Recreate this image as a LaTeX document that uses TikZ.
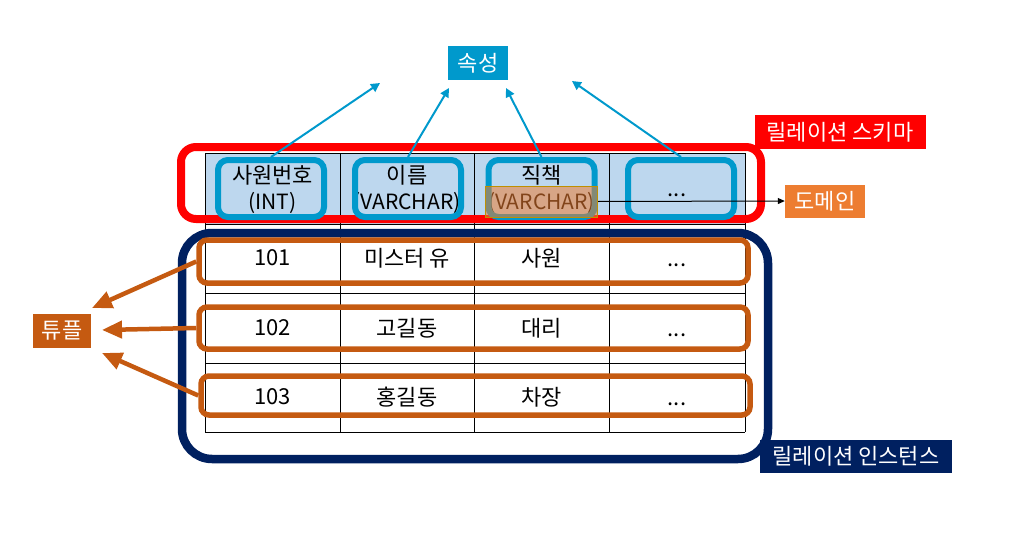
\documentclass[tikz,border=0pt]{standalone}
\usepackage{fontspec}
\setmainfont{Noto Sans CJK KR}
\usetikzlibrary{arrows.meta}
\definecolor{hdfill}{HTML}{BDD7EE}
\definecolor{attblue}{HTML}{0099CC}
\definecolor{schred}{HTML}{FF0000}
\definecolor{instnavy}{HTML}{002060}
\definecolor{tupbrown}{HTML}{C55A11}
\definecolor{domorange}{HTML}{ED7D31}
\definecolor{hlgold}{HTML}{BF9000}
\newcommand{\typefont}{\fontsize{21}{26}\selectfont}

\begin{document}
\begin{tikzpicture}[x=1pt,y=-1pt,
		every node/.style={font=\fontsize{22}{26}\selectfont},
		cell/.style={align=center,inner sep=0pt},
		colbox/.style={draw=attblue,line width=6pt,rounded corners=10pt,minimum width=106pt,minimum height=57pt,inner sep=0pt},
		rowbox/.style={draw=tupbrown,line width=5.5pt,rounded corners=8pt,minimum width=549pt,inner sep=0pt},
		tag/.style={text=white,inner sep=0pt,minimum height=33pt}]
			\useasboundingbox (0,0) rectangle (1029,535);
			% table
			\fill[hdfill] (205,153) rectangle (745,224);
			\foreach \x in {205,340,474,609,745}
   \draw[line width=0.8pt] (\x,153) -- (\x,432);
\foreach \y in {153,224,293,363,432}
    \draw[line width=0.8pt] (205,\y) -- (745,\y);
			\node[cell] (h1) at (272.5,189) {사원번호\\{\typefont(INT)}};
			\node[cell] (h2) at (407,189) {이름\\{\typefont(VARCHAR)}};
			\node[cell] (h3) at (541.5,189) {직책\\{\typefont(VARCHAR)}};
			\node[cell] (h4) at (677,189) {\vphantom{1}...};
			\foreach \y/\n/\a/\b in {258/101/미스터 유/사원, 328/102/고길동/대리, 397/103/홍길동/차장} {
    \node[cell] (n\n) at (272.5,\y) {\n};
    \node[cell] (a\n) at (407,\y) {\a};
    \node[cell] (b\n) at (541.5,\y) {\b};
    \node[cell] (e\n) at (677,\y+1) {\vphantom{1}...};
			}
			% schema
			\node[draw=schred,line width=8pt,rounded corners=15pt,minimum width=580pt,minimum height=72pt] (schema) at (471,183) {};
			\node[colbox] (c1) at (271,188.5) {};
			\node[colbox] (c2) at (408,188.5) {};
			\node[colbox] (c3) at (541.5,188.5) {};
			\node[colbox] (c4) at (681,188.5) {};
			\node[fill=domorange,fill opacity=0.55,draw=hlgold,line width=1pt,minimum width=112pt,minimum height=31pt,inner sep=0pt] (hl) at (541.5,201.5) {};
			% instance
			\node[draw=instnavy,line width=8.5pt,rounded corners=30pt,minimum width=586pt,minimum height=226pt] (inst) at (475,346) {};
			\node[rowbox,minimum height=43pt] (r1) at (473.5,261.5) {};
			\node[rowbox,minimum height=42pt] (r2) at (473.5,328) {};
			\node[rowbox,minimum height=39pt] (r3) at (475.5,395.5) {};
			% labels
			\node[tag,fill=attblue,minimum width=60pt,minimum height=34pt] (attr) at (478,63) {속성};
			\node[tag,fill=schred,minimum width=171pt] (schlbl) at (840,132) {릴레이션 스키마};
			\node[tag,fill=domorange,minimum width=80pt] (dom) at (825,201) {도메인};
			\node[tag,fill=instnavy,minimum width=192pt] (instlbl) at (856,456) {릴레이션 인스턴스};
			\node[tag,fill=tupbrown,minimum width=58pt,minimum height=34pt] (tup) at (62,331) {튜플};
			% arrows
			\coordinate (p1) at (380,83);
			\coordinate (p2) at (449,88);
			\coordinate (p3) at (506,88);
			\coordinate (p4) at (572,81);
			\foreach \i in {1,...,4}
    \draw[attblue,line width=2pt,-{Triangle[length=9pt,width=9pt]}] (c\i.north) -- (p\i);
			\draw[line width=1pt,-{Triangle[length=7pt,width=6pt]}] (hl.east) -- (dom.west);
			\coordinate (q1) at (92,308);
			\coordinate (q2) at (102,330);
			\coordinate (q3) at (102,353);
			\foreach \i in {1,2,3}
    \draw[tupbrown,line width=4.5pt,-{Triangle[length=20pt,width=17pt]}] (r\i.west) -- (q\i);

		\end{tikzpicture}
\end{document}
